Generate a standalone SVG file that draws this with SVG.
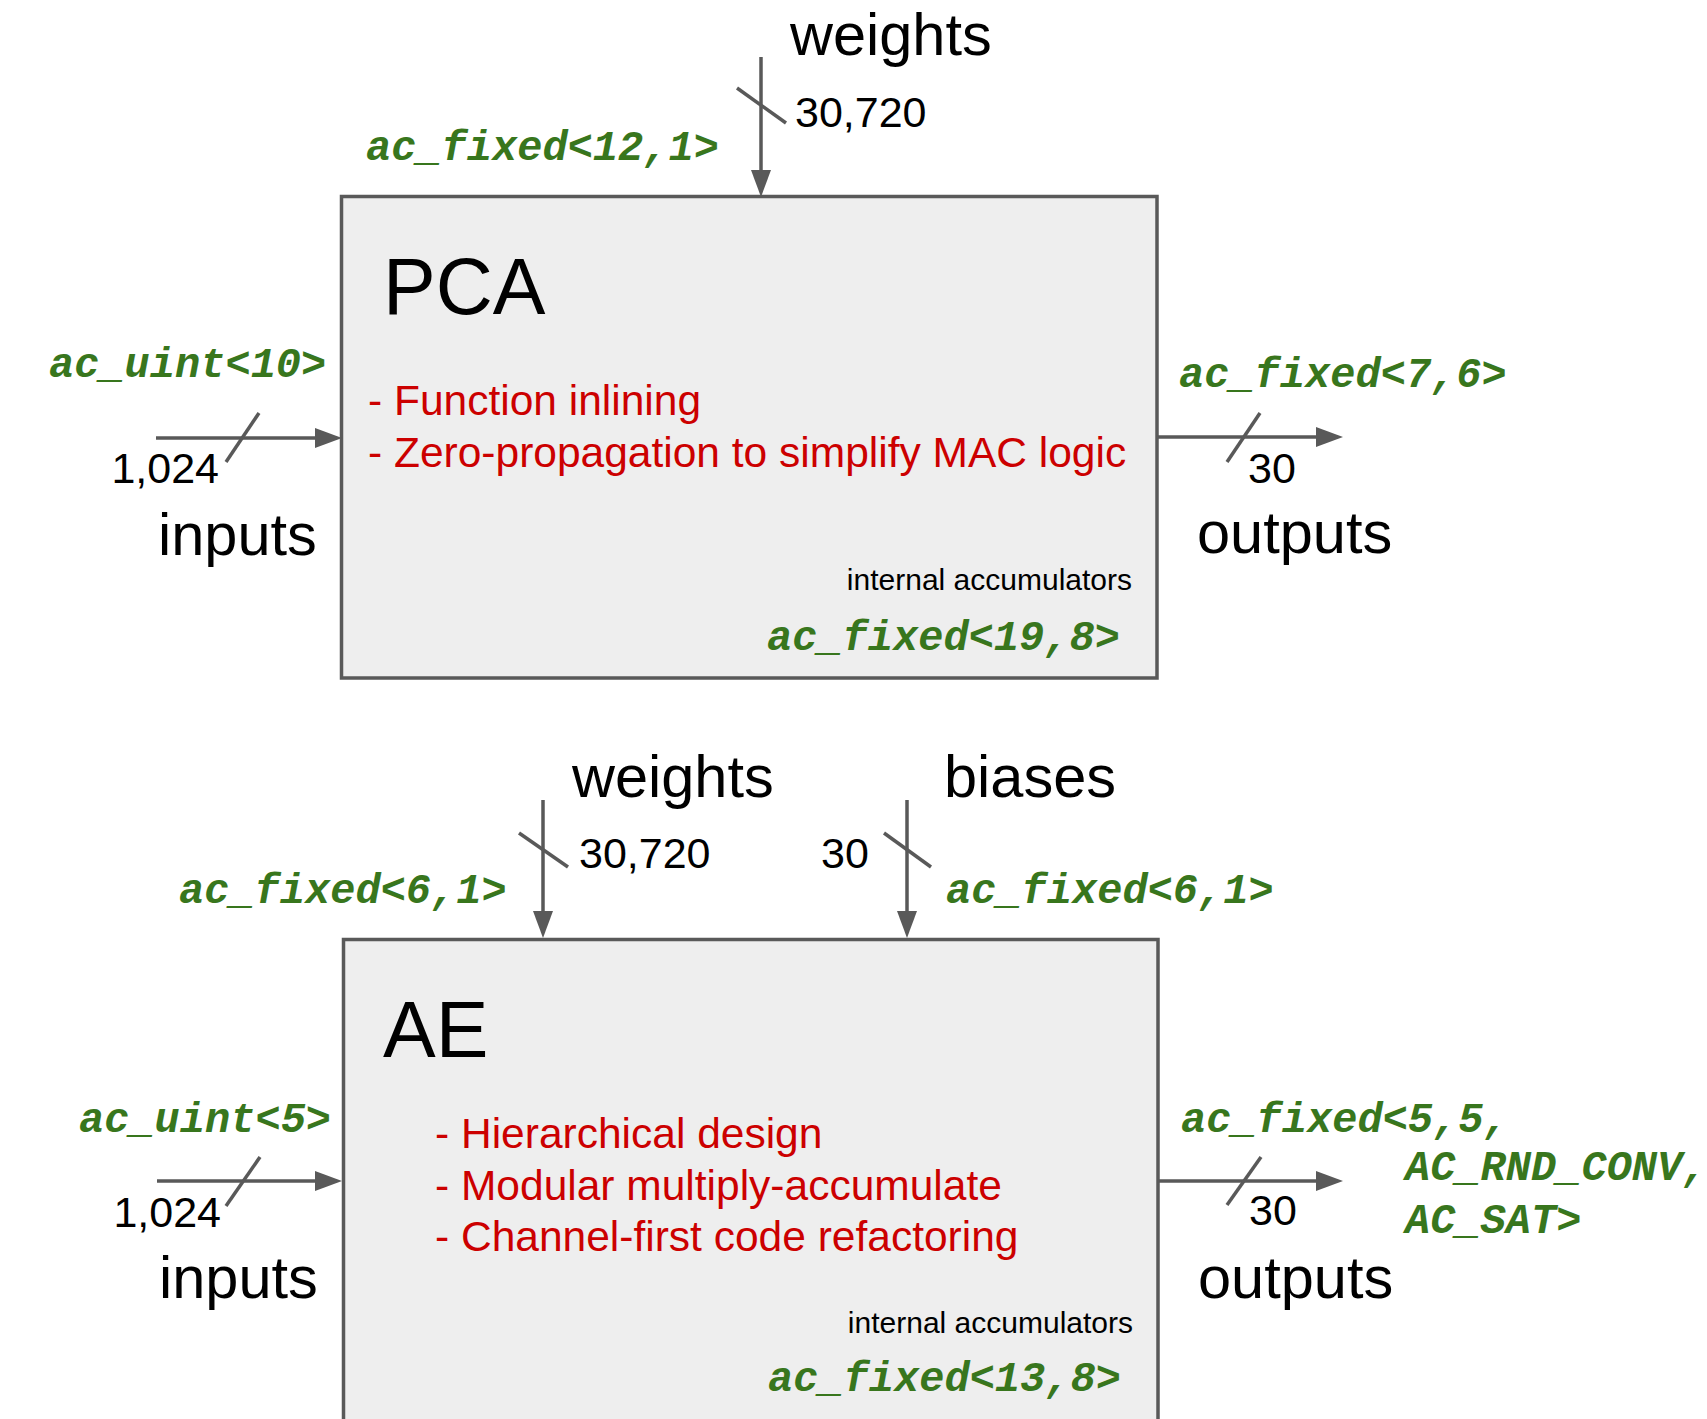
<svg xmlns="http://www.w3.org/2000/svg" width="1707" height="1419" viewBox="0 0 1707 1419">
<defs>
<style>
.lbl{font-family:"Liberation Sans",Arial,sans-serif;fill:#000;font-size:59.5px}
.num{font-family:"Liberation Sans",Arial,sans-serif;fill:#000;font-size:43px}
.title{font-family:"Liberation Sans",Arial,sans-serif;fill:#000;font-size:79px}
.red{font-family:"Liberation Sans",Arial,sans-serif;fill:#cc0000;font-size:42.5px}
.small{font-family:"Liberation Sans",Arial,sans-serif;fill:#000;font-size:30px}
.type{font-family:"Liberation Mono","Courier New",monospace;fill:#38761d;font-size:42px;font-weight:bold;font-style:italic}
.box{fill:#eeeeee;stroke:#595959;stroke-width:3.5}
.wire{stroke:#595959;stroke-width:3.5;fill:none}
.arrow{marker-end:url(#ah)}
</style>
<marker id="ah" markerUnits="userSpaceOnUse" markerWidth="28" markerHeight="22" viewBox="0 0 28 22" refX="17" refY="11" orient="auto">
<path d="M0,1 L27,11 L0,21 Z" fill="#595959"/>
</marker>
</defs>
<rect width="1707" height="1419" fill="#ffffff"/>

<g id="pca">
<rect class="box" x="341.5" y="196.5" width="815.5" height="481.5"/>
<text class="title" x="383" y="314">PCA</text>
<text class="red" x="368" y="415">- Function inlining</text>
<text class="red" x="368" y="467">- Zero-propagation to simplify MAC logic</text>
<text class="small" x="1132" y="590" text-anchor="end">internal accumulators</text>
<text class="type" x="767" y="650">ac_fixed&lt;19,8&gt;</text>
</g>

<g id="ae">
<rect class="box" x="343.5" y="939.5" width="814.5" height="520"/>
<text class="title" x="383" y="1057">AE</text>
<text class="red" x="435" y="1148">- Hierarchical design</text>
<text class="red" x="435" y="1200">- Modular multiply-accumulate</text>
<text class="red" x="435" y="1251">- Channel-first code refactoring</text>
<text class="small" x="1133" y="1333" text-anchor="end">internal accumulators</text>
<text class="type" x="768" y="1391">ac_fixed&lt;13,8&gt;</text>
</g>

<g id="pca-labels">
<text class="lbl" x="790" y="55">weights</text>
<text class="num" x="795" y="127">30,720</text>
<text class="type" x="366" y="160">ac_fixed&lt;12,1&gt;</text>
<text class="type" x="49" y="377">ac_uint&lt;10&gt;</text>
<text class="num" x="219" y="483" text-anchor="end">1,024</text>
<text class="lbl" x="158" y="555">inputs</text>
<text class="type" x="1179" y="387">ac_fixed&lt;7,6&gt;</text>
<text class="num" x="1248" y="483">30</text>
<text class="lbl" x="1197" y="553">outputs</text>
</g>

<g id="ae-labels">
<text class="lbl" x="572" y="797">weights</text>
<text class="num" x="579" y="868">30,720</text>
<text class="type" x="179" y="903">ac_fixed&lt;6,1&gt;</text>
<text class="lbl" x="944" y="797">biases</text>
<text class="num" x="821" y="868">30</text>
<text class="type" x="946" y="903">ac_fixed&lt;6,1&gt;</text>
<text class="type" x="79" y="1132">ac_uint&lt;5&gt;</text>
<text class="num" x="221" y="1227" text-anchor="end">1,024</text>
<text class="lbl" x="159" y="1298">inputs</text>
<text class="type" x="1181" y="1132">ac_fixed&lt;5,5,</text>
<text class="type" x="1405" y="1180">AC_RND_CONV,</text>
<text class="type" x="1405" y="1233">AC_SAT&gt;</text>
<text class="num" x="1249" y="1225">30</text>
<text class="lbl" x="1198" y="1298">outputs</text>
</g>

<g id="connectors">
<line class="wire arrow" x1="761" y1="57" x2="761" y2="187"/>
<line class="wire" x1="737" y1="88" x2="786" y2="123"/>
<line class="wire arrow" x1="156" y1="438" x2="332" y2="438"/>
<line class="wire" x1="226" y1="462" x2="259" y2="413"/>
<line class="wire arrow" x1="1157" y1="437" x2="1333" y2="437"/>
<line class="wire" x1="1227" y1="462" x2="1260" y2="413"/>

<line class="wire arrow" x1="543" y1="800" x2="543" y2="928"/>
<line class="wire" x1="519" y1="833" x2="568" y2="867"/>
<line class="wire arrow" x1="907" y1="800" x2="907" y2="928"/>
<line class="wire" x1="884" y1="833" x2="931" y2="867"/>
<line class="wire arrow" x1="157" y1="1181" x2="332" y2="1181"/>
<line class="wire" x1="226" y1="1206" x2="260" y2="1157"/>
<line class="wire arrow" x1="1158" y1="1181" x2="1333" y2="1181"/>
<line class="wire" x1="1227" y1="1205" x2="1261" y2="1157"/>
</g>
</svg>
